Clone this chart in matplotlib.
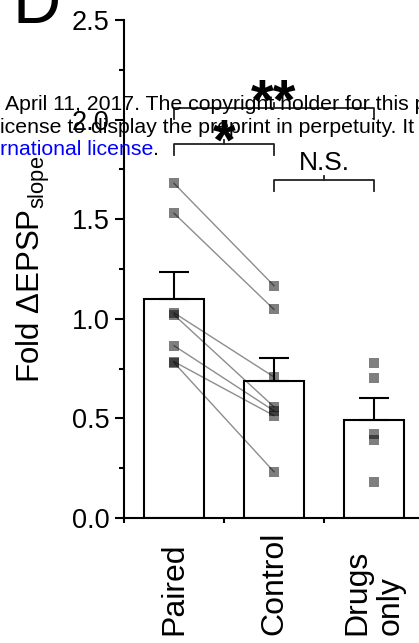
import matplotlib
matplotlib.use("Agg")
import matplotlib.pyplot as plt
from matplotlib.ticker import MultipleLocator, FormatStrFormatter

plt.rcParams["font.family"] = ["Liberation Sans", "DejaVu Sans"]
plt.rcParams["mathtext.fontset"] = "custom"
plt.rcParams["mathtext.rm"] = "Liberation Sans"
plt.rcParams["mathtext.default"] = "regular"

# data
groups = ["Paired", "Control", "Drugs\nonly"]
bar_means = [1.10, 0.686, 0.494]
bar_sem = [0.137, 0.119, 0.109]

paired_pts = [1.68, 1.53, 1.03, 1.02, 0.865, 0.785, 0.78]
control_pts = [1.166, 1.047, 0.708, 0.558, 0.538, 0.514, 0.232]
drugs_pts = [0.780, 0.701, 0.424, 0.392, 0.179]

# significance brackets: (x left, x right, y, label)
sig_brackets = [(1, 2, 1.877, "*"), (1, 3, 2.060, "**"), (2, 3, 1.697, "N.S.")]

W, H = 419, 643
fig = plt.figure(figsize=(W / 100, H / 100), dpi=100)
ax = fig.add_axes([124 / W, 1 - 518 / H, 300 / W, 498 / H])

xpos = [1, 2, 3]
ax.bar(xpos, bar_means, width=0.6, color="white", edgecolor="black",
       linewidth=1.5, zorder=2)
ax.errorbar(xpos, bar_means, yerr=[[0] * 3, bar_sem], fmt="none",
            ecolor="black", elinewidth=1.5, capsize=10.5, capthick=1.5, zorder=2)

# individual cells
for xi, pts in zip(xpos, [paired_pts, control_pts, drugs_pts]):
    ax.plot([xi] * len(pts), pts, ls="none", marker="s", ms=7.5, mew=0,
            color="black", alpha=0.5, zorder=3)
for a, b in zip(paired_pts, control_pts):
    ax.plot([1, 2], [a, b], color="black", alpha=0.45, lw=1.0, zorder=4)

# brackets
leg = 0.055
for x0, x1, y, lab in sig_brackets:
    ax.plot([x0, x0, x1, x1], [y - leg, y, y, y - leg], color="#222222",
            lw=1.3, zorder=5, clip_on=False)
    xm = (x0 + x1) / 2
    ax.plot([xm, xm], [y, y + 0.022], color="#222222", lw=1.3, zorder=5,
            clip_on=False)
    if lab == "N.S.":
        ax.text(xm, y + 0.05, lab, ha="center", va="baseline", fontsize=19,
                zorder=6)
    else:
        off = -0.08 if lab == "*" else -0.06
        ax.text(xm, y + off, lab, ha="center", va="baseline", fontsize=42,
                fontweight="bold", zorder=6, clip_on=False)

ax.set_xlim(0.5, 3.5)
ax.set_ylim(0, 2.5)
ax.set_xticks([0.5, 1.5, 2.5, 3.5])
ax.set_xticklabels([])
ax.yaxis.set_major_locator(MultipleLocator(0.5))
ax.yaxis.set_minor_locator(MultipleLocator(0.25))
ax.yaxis.set_major_formatter(FormatStrFormatter("%.1f"))
ax.tick_params(axis="y", which="major", length=6.5, width=1.5, labelsize=19.5, pad=4)
ax.tick_params(axis="y", which="minor", length=3.4, width=1.5)
ax.tick_params(axis="x", length=3.6, width=1.5)
for s in ["top", "right"]:
    ax.spines[s].set_visible(False)
for s in ["left", "bottom"]:
    ax.spines[s].set_linewidth(1.5)

ax.set_ylabel("Fold ΔEPSP$_{slope}$", fontsize=22.5, labelpad=14)

for xi, g in zip(xpos, groups):
    ax.text(xi, -0.235, g, transform=ax.get_xaxis_transform(), rotation=90,
            ha="center", va="bottom", multialignment="left", fontsize=23,
            linespacing=1.1)

# panel letter
fig.text(12 / W, 1 - 23 / H, "D", fontsize=48, va="baseline", ha="left")

# preprint watermark overlapping the panel
fig.text(5 / W, 1 - 110 / H, "April 11, 2017. The copyright holder for this p",
         fontsize=15.3, va="baseline", ha="left")
fig.text(0, 1 - 133 / H, "icense to display the preprint in perpetuity. It",
         fontsize=15.3, va="baseline", ha="left")
t3 = fig.text(0, 1 - 155 / H, "rnational license", fontsize=15.3, color="#0000ff",
              va="baseline", ha="left")
fig.add_artist(plt.Annotation(".", xy=(1, 0), xycoords=t3, ha="left",
                              va="bottom", fontsize=15.3, annotation_clip=False))

fig.savefig("out.png", dpi=100)
